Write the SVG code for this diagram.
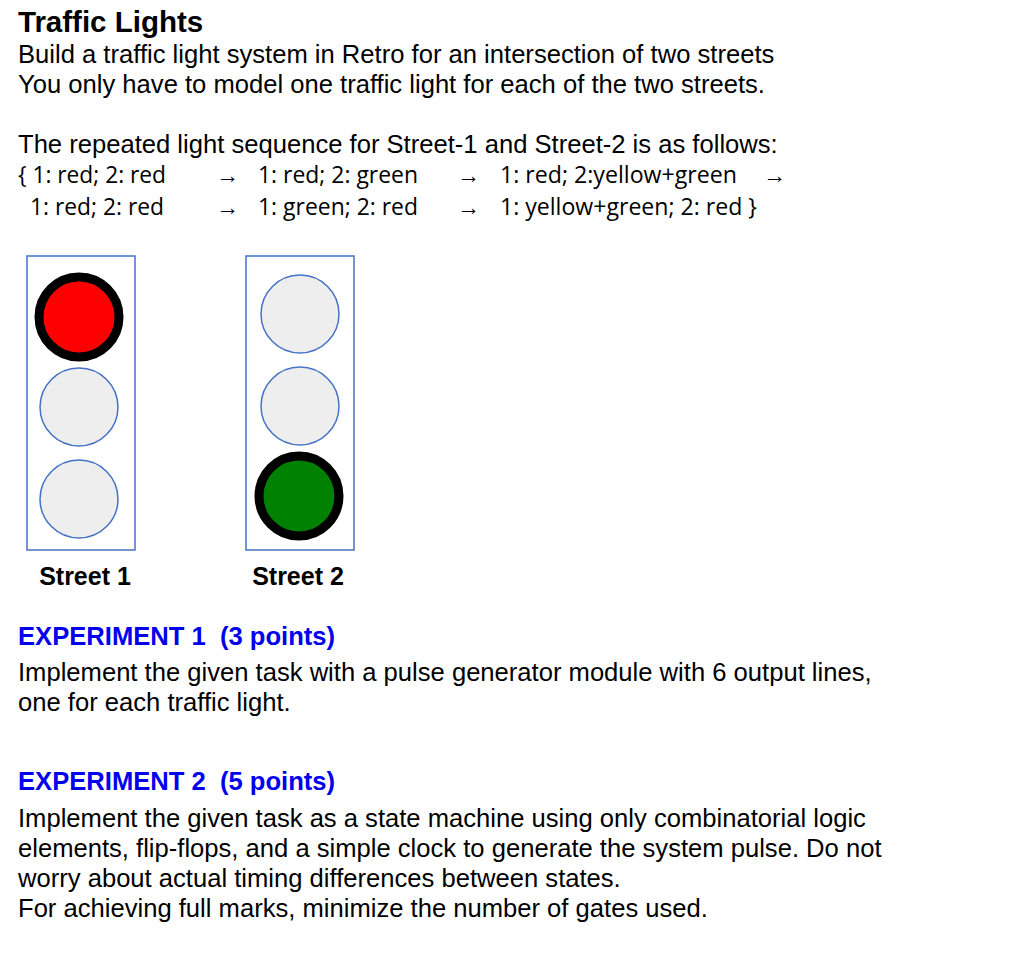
<svg xmlns="http://www.w3.org/2000/svg" width="1024" height="965" viewBox="0 0 1024 965">
<style>
text{font-family:"Liberation Sans",Arial,sans-serif;fill:#000}
.b{font-size:25.6px}
.s{font-size:23px;font-family:"Open Sans","Liberation Sans",sans-serif}
.h{font-size:25.6px;font-weight:bold;fill:#0000ee}
.lab{font-size:25px;font-weight:bold;text-anchor:middle}
.box{fill:#fff;stroke:#4472c4;stroke-width:1.5}
.off{fill:#eeeeee;stroke:#4472c4;stroke-width:1.5}
</style>
<rect width="1024" height="965" fill="#fff"/>
<text x="18" y="32" style="font-size:29.5px;font-weight:bold">Traffic Lights</text>
<text class="b" x="18" y="63">Build a traffic light system in Retro for an intersection of two streets</text>
<text class="b" x="18" y="93">You only have to model one traffic light for each of the two streets.</text>
<text class="b" x="18" y="153">The repeated light sequence for Street-1 and Street-2 is as follows:</text>
<g class="seq">
<text class="s" x="18" y="183" textLength="148" lengthAdjust="spacingAndGlyphs">{ 1: red; 2: red</text>
<text class="s" x="216" y="183">→</text>
<text class="s" x="258" y="183" textLength="160" lengthAdjust="spacingAndGlyphs">1: red; 2: green</text>
<text class="s" x="457" y="183">→</text>
<text class="s" x="500" y="183" textLength="237" lengthAdjust="spacingAndGlyphs">1: red; 2:yellow+green</text>
<text class="s" x="763" y="183">→</text>
<text class="s" x="30" y="215" textLength="134" lengthAdjust="spacingAndGlyphs">1: red; 2: red</text>
<text class="s" x="216" y="215">→</text>
<text class="s" x="258" y="215" textLength="160" lengthAdjust="spacingAndGlyphs">1: green; 2: red</text>
<text class="s" x="457" y="215">→</text>
<text class="s" x="500" y="215" textLength="257" lengthAdjust="spacingAndGlyphs">1: yellow+green; 2: red }</text>
</g>
<g id="street1">
<rect class="box" x="27" y="256" width="108" height="294"/>
<circle cx="79" cy="317" r="40" fill="#ff0000" stroke="#000" stroke-width="9"/>
<circle class="off" cx="79" cy="407" r="39"/>
<circle class="off" cx="79" cy="499" r="39"/>
<text class="lab" x="85" y="585">Street 1</text>
</g>
<g id="street2">
<rect class="box" x="246" y="256" width="108" height="294"/>
<circle class="off" cx="300" cy="314" r="39"/>
<circle class="off" cx="300" cy="406" r="39"/>
<circle cx="299" cy="496" r="40" fill="#008000" stroke="#000" stroke-width="9"/>
<text class="lab" x="298" y="585">Street 2</text>
</g>
<g id="connectors"/>
<text class="h" x="18" y="645" xml:space="preserve">EXPERIMENT 1  (3 points)</text>
<text class="b" x="18" y="681">Implement the given task with a pulse generator module with 6 output lines,</text>
<text class="b" x="18" y="711">one for each traffic light.</text>
<text class="h" x="18" y="790" xml:space="preserve">EXPERIMENT 2  (5 points)</text>
<text class="b" x="18" y="827">Implement the given task as a state machine using only combinatorial logic</text>
<text class="b" x="18" y="857">elements, flip-flops, and a simple clock to generate the system pulse. Do not</text>
<text class="b" x="18" y="887">worry about actual timing differences between states.</text>
<text class="b" x="18" y="917">For achieving full marks, minimize the number of gates used.</text>
</svg>
